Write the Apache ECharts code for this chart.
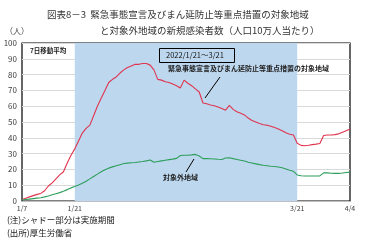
<!DOCTYPE html>
<html><head><meta charset="utf-8">
<script src="https://cdn.jsdelivr.net/npm/echarts@6/dist/echarts.min.js"></script>
<style>html,body{margin:0;padding:0;background:#fff}#c{width:365px;height:247px}</style>
</head><body><div id="c"></div>
<script>
var categories = [
 '1/7','1/8','1/9','1/10','1/11','1/12','1/13','1/14','1/15','1/16','1/17','1/18','1/19','1/20','1/21','1/22','1/23','1/24','1/25','1/26','1/27','1/28','1/29','1/30','1/31',
 '2/1','2/2','2/3','2/4','2/5','2/6','2/7','2/8','2/9','2/10','2/11','2/12','2/13','2/14','2/15','2/16','2/17','2/18','2/19','2/20','2/21','2/22','2/23','2/24','2/25','2/26','2/27','2/28',
 '3/1','3/2','3/3','3/4','3/5','3/6','3/7','3/8','3/9','3/10','3/11','3/12','3/13','3/14','3/15','3/16','3/17','3/18','3/19','3/20','3/21','3/22','3/23','3/24','3/25','3/26','3/27','3/28','3/29','3/30','3/31',
 '4/1','4/2','4/3','4/4'];
var tickLabels = ['1/7','1/21','3/21','4/4'];
var shadeRange = ['1/21','3/21'];
var targetArea = [1.0,1.8,2.6,3.4,4.2,4.8,6.5,9.5,11.5,14,16.5,18.5,24,29,33,38,43,46,48,54,60,65,70,75,77,
 78.5,81,83,84.5,85.5,86.5,86.5,87,87,86,83,77,76.5,75.5,75,74,73,71.5,76.5,74.5,73,71,69,62,61.5,60.8,60.3,59.5,
 58.5,57.5,60.5,58,56.5,55.5,54.5,52.5,51,50,49,48.3,48,47.3,46.5,45.6,44.5,43.2,42.3,41.8,36.5,35.2,35,35.3,35.7,36,36.4,41.5,41.8,41.8,42,
 42.5,43.5,44.5,45.5];
var otherArea = [0.6,0.9,1.2,1.5,1.8,2.1,2.6,3.2,3.9,4.6,5.3,6.2,7.2,8.3,9.2,10.2,11.3,12.5,14,15.5,17,18.5,19.8,20.8,21.6,
 22.3,23,23.7,24,24.2,24.4,24.7,25,25.4,26,24.5,25,25.4,25.8,26.2,26.5,27,28.8,29,29,29.2,29.5,28.5,26.8,26.8,26.7,26.6,26.4,
 26.3,27.2,27.4,26.8,26.3,25.8,25.3,24.5,24,23.5,23,22.6,22.3,22,21.8,21.5,21,20.3,19.5,18.8,16.5,16,15.8,15.8,15.8,15.8,15.9,17.8,17.8,17.6,17.5,
 17.5,17.7,18,18.3];
var yTicks = [0,10,20,30,40,50,60,70,80,90,100];

var chart = echarts.init(document.getElementById('c'), null, {renderer:'canvas'});
var FF = '"Noto Sans CJK JP", sans-serif';
chart.setOption({
  animation:false,
  grid:{left:22,right:15,top:43,bottom:46,show:true,borderColor:'#000',borderWidth:1.2,backgroundColor:'transparent'},
  xAxis:{type:'category',data:categories,boundaryGap:false,
    axisLine:{lineStyle:{color:'#bfbfbf',width:1}},axisTick:{show:false},
    axisLabel:{fontSize:7,color:'#404040',fontFamily:FF,margin:4,
      interval:function(i,v){return tickLabels.indexOf(v)>=0;}},
    splitLine:{show:false}},
  yAxis:{type:'value',min:0,max:100,interval:10,
    axisLine:{show:false},axisTick:{show:false},
    axisLabel:{fontSize:8,color:'#404040',fontFamily:FF,margin:5},
    splitLine:{lineStyle:{color:'#d9d9d9',width:1}}},
  series:[
    {type:'line',data:targetArea,symbol:'none',lineStyle:{color:'#e0344f',width:1.1},z:3,
     markArea:{silent:true,itemStyle:{color:'#bdd7ee'},data:[[{xAxis:shadeRange[0]},{xAxis:shadeRange[1]}]]}},
    {type:'line',data:otherArea,symbol:'none',lineStyle:{color:'#2e9e5b',width:1.1},z:3}
  ],
  graphic:[
    {type:'text',left:47,top:10,style:{text:'図表8－3  緊急事態宣言及びまん延防止等重点措置の対象地域',font:'9.5px '+FF,fill:'#333'}},
    {type:'text',left:100,top:26,style:{text:'と対象外地域の新規感染者数（人口10万人当たり）',font:'9.5px '+FF,fill:'#333'}},
    {type:'text',left:5,top:27,style:{text:'（人）',font:'8px '+FF,fill:'#404040'}},
    {type:'text',left:30,top:47,style:{text:'7日移動平均',font:'bold 6.5px '+FF,fill:'#222'}},
    {type:'rect',shape:{x:159.5,y:48.5,width:75,height:14},style:{fill:'none',stroke:'#000',lineWidth:1},z:10},
    {type:'text',left:166,top:51,style:{text:'2022/1/21～3/21',font:'7.5px '+FF,fill:'#111'},z:10},
    {type:'text',left:168,top:65,style:{text:'緊急事態宣言及びまん延防止等重点措置の対象地域',font:'bold 7px '+FF,fill:'#222'},z:10},
    {type:'line',shape:{x1:220,y1:77,x2:205,y2:98},style:{stroke:'#000',lineWidth:1},z:10},
    {type:'text',left:163,top:174,style:{text:'対象外地域',font:'bold 7px '+FF,fill:'#222'},z:10},
    {type:'line',shape:{x1:194,y1:159,x2:186,y2:172},style:{stroke:'#000',lineWidth:1},z:10},
    {type:'text',left:7,top:216,style:{text:'(注)シャドー部分は実施期間',font:'8.5px '+FF,fill:'#222'}},
    {type:'text',left:7,top:229,style:{text:'(出所)厚生労働省',font:'8.5px '+FF,fill:'#222'}}
  ]
});
</script></body></html>
